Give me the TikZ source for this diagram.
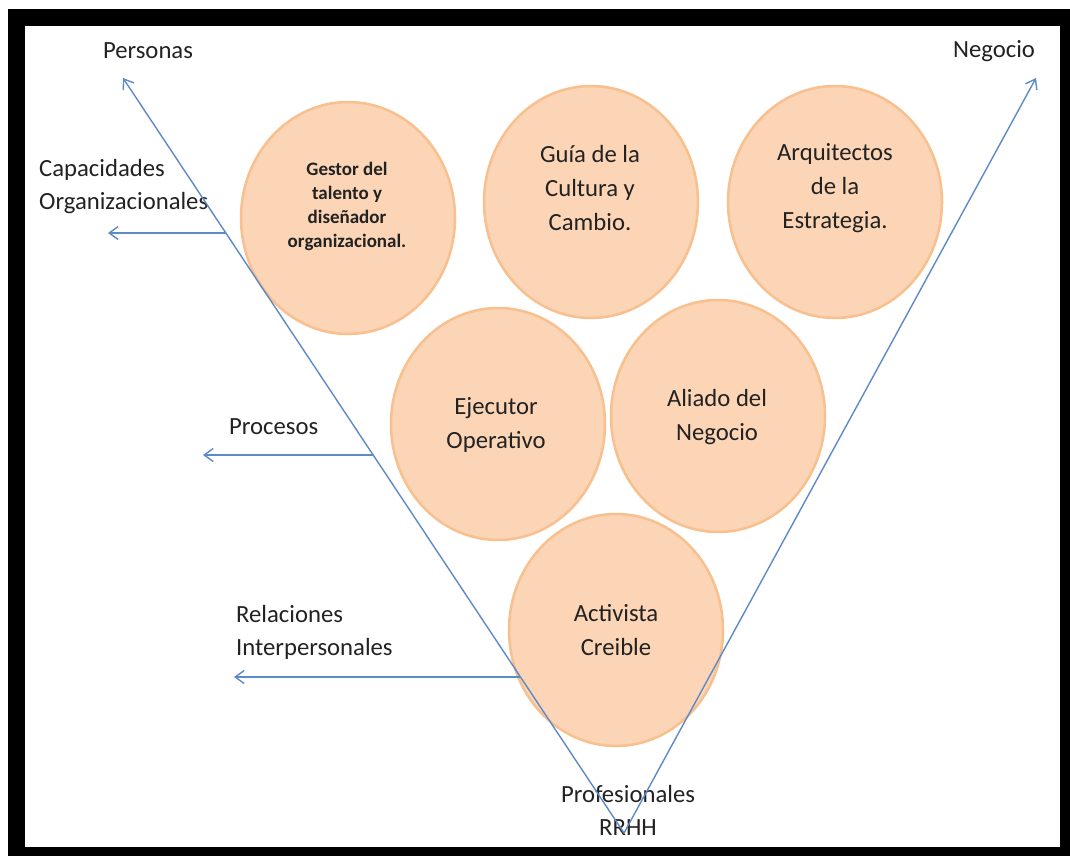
\documentclass[tikz,border=0pt]{standalone}
\usepackage{fontspec}
\setmainfont{Carlito}
\usetikzlibrary{shapes.geometric,arrows.meta}
\definecolor{peach}{HTML}{FBD5B5}
\definecolor{peachline}{HTML}{F8C08F}
\definecolor{lineblue}{HTML}{5E8AC7}
\definecolor{txt}{HTML}{222222}
\begin{document}
\begin{tikzpicture}[x=1pt,y=-1pt,
  bubble/.style={ellipse,fill=peach,draw=peachline,line width=2.5pt,minimum width=214pt,minimum height=232pt,inner sep=0pt},
  btext/.style={align=center,text=txt,font=\fontsize{24.7}{34}\selectfont,inner sep=0pt},
  lbl/.style={align=left,text=txt,font=\fontsize{24.7}{33}\selectfont,inner sep=0pt},
  arr/.style={draw=lineblue,line width=1.4pt,-{Straight Barb[length=9pt,width=13pt]}},
  ]
\useasboundingbox (0,0) rectangle (1070,856);
\fill[black] (8,9) rectangle (1070,856);
\fill[white] (25,26) rectangle (1060,847);

% bubbles
\node[bubble] (gestor) at (348,218) {};
\node[bubble] (guia) at (591,202) {};
\node[bubble] (arq) at (835,202) {};
\node[bubble] (ejec) at (498,424) {};
\node[bubble] (aliado) at (718,416) {};
\node[bubble] (activ) at (616,630) {};

\node[btext,font=\bfseries\fontsize{19}{24}\selectfont] (gestort) at (347,206) {Gestor del\\talento y\\diseñador\\organizacional.};
\node[btext] (guiat) at (590,188) {Guía de la\\Cultura y\\Cambio.};
\node[btext] (arqt) at (835,188) {Arquitectos\\de la\\Estrategia.};
\node[btext] (eject) at (496,425) {Ejecutor\\Operativo};
\node[btext] (aliadot) at (717,417) {Aliado del\\Negocio};
\node[btext] (activt) at (616,630) {Activista\\Creible};

% labels
\node[lbl] (personas) at (148,51) {Personas};
\node[lbl] (negocio) at (994,51) {Negocio};
\node[lbl,anchor=west] (capac) at (39,187) {Capacidades\\Organizacionales};
\node[lbl,anchor=west] (proc) at (229,427) {Procesos};
\node[lbl,anchor=west] (relac) at (236,632) {Relaciones\\Interpersonales};
\node[lbl,align=center] (prof) at (628,810) {Profesionales\\RRHH};

% axes
\coordinate (apex) at (624,833);
\coordinate (ptop) at (123,78);
\coordinate (ntop) at (1036,78);
\coordinate (c1) at (226,233);
\coordinate (c2) at (373,455);
\coordinate (c3) at (520,677);
\coordinate (t1) at (108,233);
\coordinate (t2) at (203,455);
\coordinate (t3) at (234,677);

\draw[arr] (apex) -- (ptop);
\draw[arr] (apex) -- (ntop);
\draw[arr] (c1) -- (t1);
\draw[arr] (c2) -- (t2);
\draw[arr] (c3) -- (t3);
\end{tikzpicture}
\end{document}
